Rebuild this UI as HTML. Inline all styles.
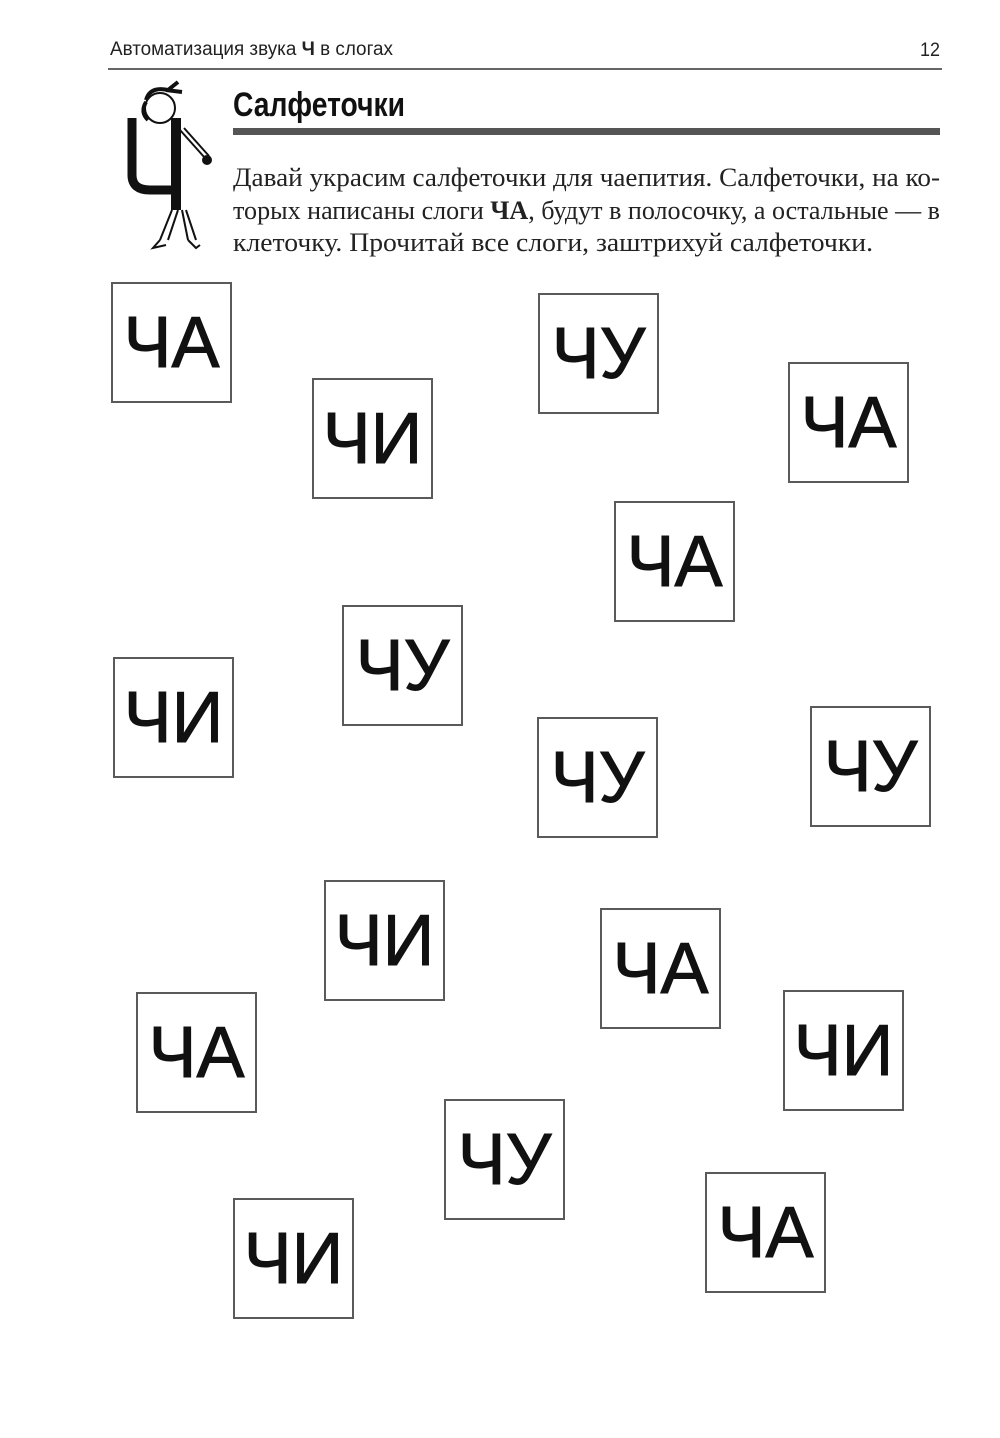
<!DOCTYPE html>
<html><head><meta charset="utf-8"><style>
html,body{margin:0;padding:0;background:#fff;}
body{width:1000px;height:1438px;position:relative;overflow:hidden;}
.b{position:absolute;width:117px;height:117px;border:2px solid #5a5a5a;display:flex;align-items:center;justify-content:center;font-family:"Liberation Sans",sans-serif;font-size:72px;color:#111;line-height:1;-webkit-text-stroke:1px #111;}
svg{position:absolute;left:0;top:0;}
</style></head><body>
<svg width="1000" height="300" viewBox="0 0 1000 300">
<text x="110" y="55" font-family="Liberation Sans Narrow, Liberation Sans, sans-serif" font-size="19" fill="#222" textLength="283" lengthAdjust="spacingAndGlyphs">Автоматизация звука <tspan font-weight="bold">Ч</tspan> в слогах</text>
<text x="920" y="56" font-family="Liberation Sans, sans-serif" font-size="19" fill="#222" textLength="20" lengthAdjust="spacingAndGlyphs">12</text>
<line x1="108" y1="69" x2="942" y2="69" stroke="#333" stroke-width="1.5"/>
<text x="233" y="116" font-family="Liberation Sans, sans-serif" font-weight="bold" font-size="34" fill="#111" textLength="172" lengthAdjust="spacingAndGlyphs">Салфеточки</text>
<rect x="233" y="128" width="707" height="7" fill="#555"/>
<g font-family="Liberation Serif, serif" font-size="26" fill="#222">
<text x="233" y="186" textLength="707" lengthAdjust="spacingAndGlyphs">Давай украсим салфеточки для чаепития. Салфеточки, на ко-</text>
<text x="233" y="219" textLength="707" lengthAdjust="spacingAndGlyphs">торых написаны слоги <tspan font-weight="bold">ЧА</tspan>, будут в полосочку, а остальные — в</text>
<text x="233" y="251" textLength="640" lengthAdjust="spacingAndGlyphs">клеточку. Прочитай все слоги, заштрихуй салфеточки.</text>
</g>
<g stroke="#111" fill="none" stroke-width="2">
<circle cx="160" cy="108" r="15" fill="#fff"/>
<path d="M146 100 Q150 86 168 90 L178 82 M166 90 L182 92" stroke-width="4"/>
<path d="M146 102 Q140 112 148 120" stroke-width="4"/>
<path d="M132 118 V175 Q132 190 150 190 H172" stroke-width="9"/>
<path d="M176 118 V210" stroke-width="10"/>
<path d="M180 130 L205 158" /><path d="M184 128 L209 156"/>
<circle cx="207" cy="160" r="4" fill="#111"/>
<path d="M172 210 L160 240 M178 210 L168 240 M182 210 L188 240 M186 210 L196 240"/>
<path d="M160 240 L153 248 L166 245 M188 240 L196 248 L200 245"/>
</g>
</svg>
<div class="b" style="left:111px;top:282px">ЧА</div>
<div class="b" style="left:312px;top:378px">ЧИ</div>
<div class="b" style="left:538px;top:293px">ЧУ</div>
<div class="b" style="left:788px;top:362px">ЧА</div>
<div class="b" style="left:614px;top:501px">ЧА</div>
<div class="b" style="left:342px;top:605px">ЧУ</div>
<div class="b" style="left:113px;top:657px">ЧИ</div>
<div class="b" style="left:537px;top:717px">ЧУ</div>
<div class="b" style="left:810px;top:706px">ЧУ</div>
<div class="b" style="left:324px;top:880px">ЧИ</div>
<div class="b" style="left:600px;top:908px">ЧА</div>
<div class="b" style="left:136px;top:992px">ЧА</div>
<div class="b" style="left:783px;top:990px">ЧИ</div>
<div class="b" style="left:444px;top:1099px">ЧУ</div>
<div class="b" style="left:705px;top:1172px">ЧА</div>
<div class="b" style="left:233px;top:1198px">ЧИ</div>
</body></html>
